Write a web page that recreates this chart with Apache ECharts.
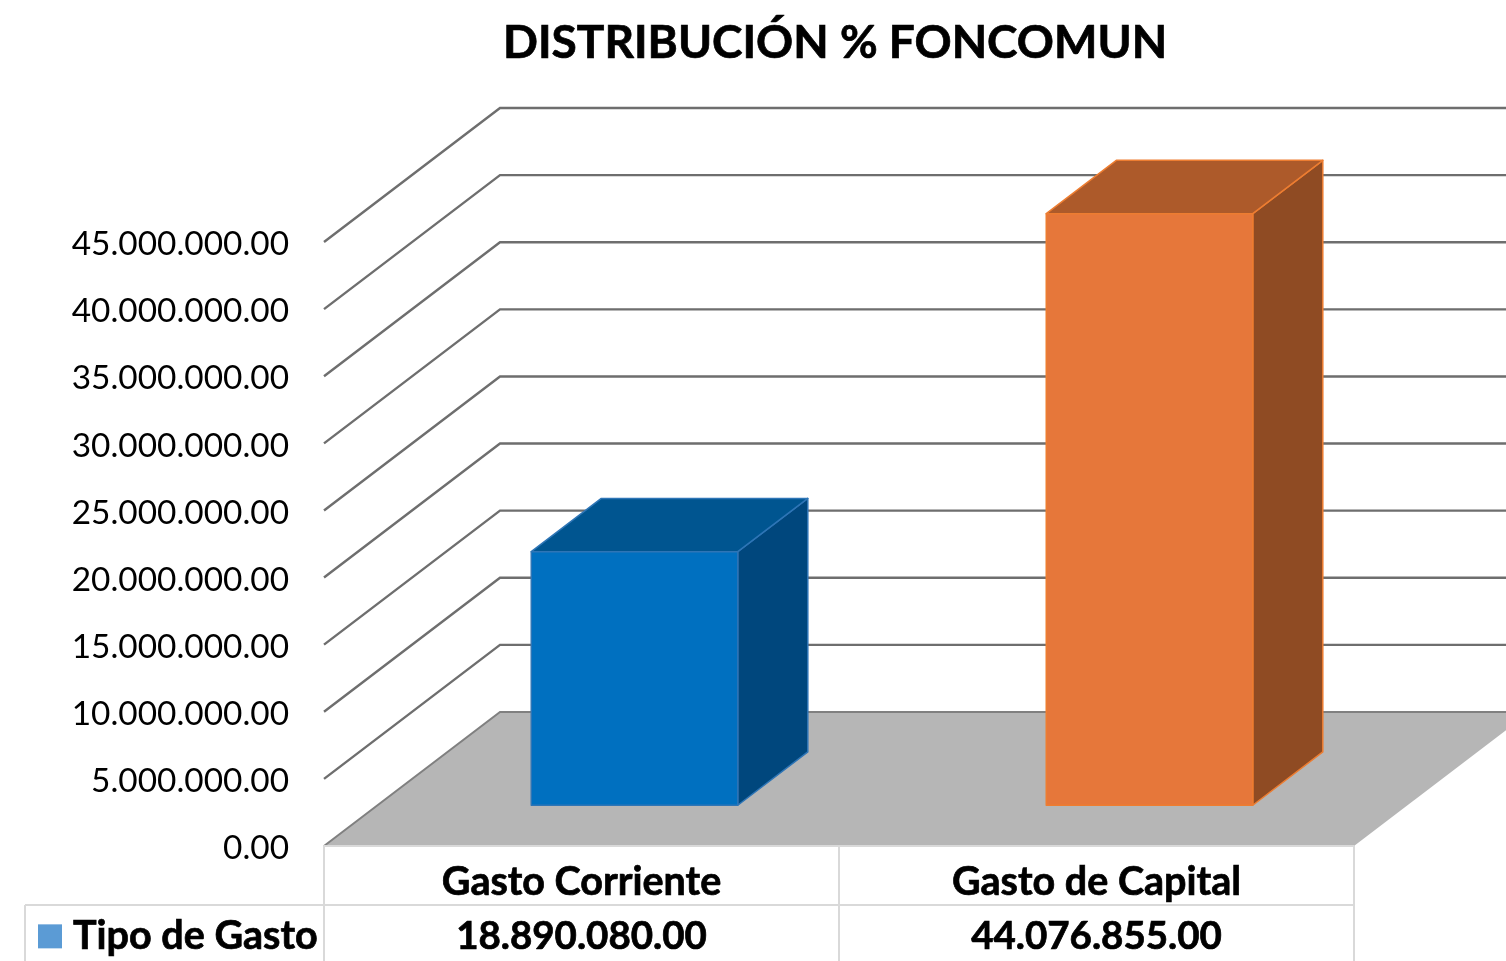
<!DOCTYPE html>
<html><head><meta charset="utf-8">
<style>html,body{margin:0;padding:0;background:#fff}#c{width:1506px;height:961px}</style>
<script src="https://cdn.jsdelivr.net/npm/echarts@6/dist/echarts.min.js"></script>
</head><body><div id="c"></div>
<script>
const categories = ['Gasto Corriente', 'Gasto de Capital'];
const seriesName = 'Tipo de Gasto';
const values = [18890080, 44076855];
const gridValues = [5000000, 10000000, 15000000, 20000000, 25000000, 30000000, 35000000, 40000000, 45000000];
const titleText = 'DISTRIBUCIÓN % FONCOMUN';

const FONT = 'Lato';
const DX = 176, DY = 134;
const faces = [
  {front:'#0070C0', top:'#005590', side:'#00477D', edge:'#2E75B6'},
  {front:'#E6773A', top:'#AD5A2A', side:'#8F4B23', edge:'#ED7D31'}
];
const heavy = {textBorderColor:'#000', textBorderWidth:0.7};
const fmt = v => {
  const s = String(Math.round(v)).replace(/\B(?=(\d{3})+(?!\d))/g, '.');
  return s + '.00';
};
const chart = echarts.init(document.getElementById('c'), null, {renderer:'canvas'});

function renderWalls(params, api) {
  const cs = params.coordSys;
  const y = api.coord([0, api.value(0)])[1];
  const l = cs.x, r = cs.x + cs.width + DX;
  return {type:'polyline', silent:true,
    shape:{points:[[l, y],[l+DX, y-DY],[r, y-DY]]},
    style:{fill:null, stroke:'#6E6E6E', lineWidth:2.4}};
}
function renderFloor(params, api) {
  const cs = params.coordSys;
  const y = api.coord([0, 0])[1];
  const l = cs.x, r = cs.x + cs.width;
  const children = [
    {type:'polygon', shape:{points:[[l,y],[l+DX,y-DY],[r+DX,y-DY],[r,y]]}, style:{fill:'#B6B6B6'}},
    {type:'polyline', shape:{points:[[l,y],[l+DX,y-DY],[r+DX,y-DY]]}, style:{fill:null, stroke:'#808080', lineWidth:2}}
  ];
  const c = '#D9D9D9';
  const tb = y + 59, bottom = 961;
  [[l,y,r,y],[l,y,l,bottom],[l+cs.width/2,y,l+cs.width/2,bottom],[r,y,r,bottom],[25,tb,r,tb],[25,tb,25,bottom]].forEach(p=>{
    children.push({type:'line', shape:{x1:p[0],y1:p[1],x2:p[2],y2:p[3]}, style:{stroke:c, lineWidth:2}});
  });
  return {type:'group', silent:true, children};
}
function renderBar(params, api) {
  const i = api.value(0), v = api.value(1);
  const top = api.coord([i, v]), base = api.coord([i, 0]);
  const w = api.size([1, 0])[0] * 0.401;
  const s = 0.304, e = 0.702;
  const x0 = top[0] - w/2 + DX*s - 0.5, x1 = x0 + w;
  const yT = top[1] - DY*s, yB = base[1] - DY*s;
  const ddx = DX*(e-s), ddy = DY*(e-s);
  const f = faces[params.dataIndex];
  const st = fill => ({fill, stroke:f.edge, lineWidth:1.5, lineJoin:'round'});
  return {type:'group', children:[
    {type:'polygon', shape:{points:[[x1,yT],[x1+ddx,yT-ddy],[x1+ddx,yB-ddy],[x1,yB]]}, style:st(f.side)},
    {type:'polygon', shape:{points:[[x0,yT],[x0+ddx,yT-ddy],[x1+ddx,yT-ddy],[x1,yT]]}, style:st(f.top)},
    {type:'rect', shape:{x:x0,y:yT,width:w,height:yB-yT}, style:st(f.front)},
    {type:'text', x:base[0], y:base[1]+91, style:Object.assign({text:fmt(v), font:'bold 38.5px '+FONT, fill:'#000', align:'center', verticalAlign:'middle', stroke:'#000', lineWidth:0.7})}
  ]};
}

chart.setOption({
  animation:false,
  backgroundColor:'#fff',
  title:{text:titleText, left:830, top:15, textAlign:'center',
    textStyle:Object.assign({fontFamily:FONT, fontWeight:'bold', fontSize:46, color:'#000'}, heavy)},
  legend:{left:33, top:911, itemWidth:24, itemHeight:24, itemGap:0, selectedMode:false,
    data:[{name:seriesName, icon:'rect', itemStyle:{color:'#5B9BD5'}}],
    textStyle:Object.assign({fontFamily:FONT, fontWeight:'bold', fontSize:39.5, color:'#000', padding:[0,0,0,6]}, heavy)},
  grid:{left:324, right:152, top:242, bottom:115, containLabel:false},
  xAxis:{type:'category', data:categories, axisLine:{show:false}, axisTick:{show:false},
    axisLabel:Object.assign({margin:16, interval:0, fontFamily:FONT, fontWeight:'bold', fontSize:39.5, color:'#000'}, heavy)},
  yAxis:{type:'value', min:0, max:45000000, interval:5000000,
    axisLine:{show:false}, axisTick:{show:false}, splitLine:{show:false},
    axisLabel:{margin:35, formatter:v=>fmt(v), fontFamily:FONT, fontSize:33.4, color:'#000', verticalAlign:'top', lineHeight:5}},
  series:[
    {type:'custom', name:'walls', renderItem:renderWalls, data:gridValues.map(v=>[v]), encode:{y:0}, silent:true, z:1, clip:false},
    {type:'custom', name:'floor', renderItem:renderFloor, data:[[0]], silent:true, z:2, clip:false},
    {type:'custom', name:seriesName, renderItem:renderBar, data:values.map((v,i)=>[i,v]), encode:{x:0,y:1}, z:3, clip:false}
  ]
});
</script></body></html>
